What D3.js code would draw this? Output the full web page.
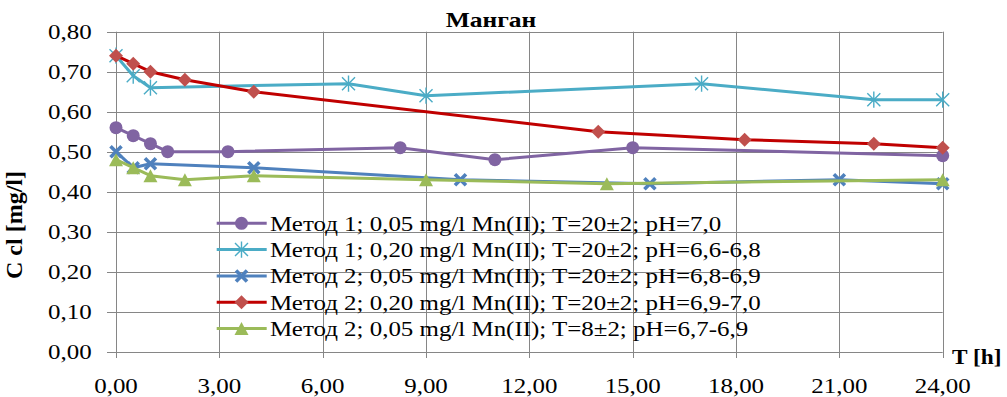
<!DOCTYPE html>
<html><head><meta charset="utf-8">
<script src="https://cdn.jsdelivr.net/npm/d3@7"></script>
<style>
html,body{margin:0;padding:0;background:#fff;}
svg{display:block;}
svg text{font-family: Liberation Serif, Tinos, Times New Roman, Times, Noto Serif, DejaVu Serif, serif;}
</style></head><body>
<svg id="c" width="1007" height="397"></svg>
<script>
const title = "Манган";
const yLabel = "C cl [mg/l]";
const xLabel = "T [h]";
const xTicks = [0,3,6,9,12,15,18,21,24];
const yTicks = [0,0.1,0.2,0.3,0.4,0.5,0.6,0.7,0.8];

const names = [
  "Метод 1; 0,05 mg/l Mn(II); T=20±2; pH=7,0",
  "Метод 1; 0,20 mg/l Mn(II); T=20±2; pH=6,6-6,8",
  "Метод 2; 0,05 mg/l Mn(II); T=20±2; pH=6,8-6,9",
  "Метод 2; 0,20 mg/l Mn(II); T=20±2; pH=6,9-7,0",
  "Метод 2; 0,05 mg/l Mn(II); T=8±2; pH=6,7-6,9"
];
const hours1 = [0,0.5,1,1.5,3.25,8.25,11,15,24];
const vals1  = [0.56,0.54,0.52,0.50,0.50,0.51,0.48,0.51,0.49];
const hours2 = [0,0.5,1,6.75,9,17,22,24];
const vals2  = [0.74,0.69,0.66,0.67,0.64,0.67,0.63,0.63];
const hours3 = [0,0.5,1,4,10,15.5,21,24];
const vals3  = [0.50,0.46,0.47,0.46,0.43,0.42,0.43,0.42];
const hours4 = [0,0.5,1,2,4,14,18.25,22,24];
const vals4  = [0.74,0.72,0.70,0.68,0.65,0.55,0.53,0.52,0.51];
const hours5 = [0,0.5,1,2,4,9,14.25,24];
const vals5  = [0.48,0.46,0.44,0.43,0.44,0.43,0.42,0.43];

const lineColors   = ["#8064A2","#4BACC6","#4F81BD","#C00000","#9BBB59"];
const markerColors = ["#8064A2","#4BACC6","#4F81BD","#C0504D","#9BBB59"];
const markerTypes  = ["circle","star","x","diamond","triangle"];

const series = [
  {h:hours1,v:vals1},{h:hours2,v:vals2},{h:hours3,v:vals3},{h:hours4,v:vals4},{h:hours5,v:vals5}
].map((s,i)=>({name:names[i], pts:s.h.map((h,j)=>({h:h,v:s.v[j]})), lc:lineColors[i], mc:markerColors[i], mt:markerTypes[i]}));

const SX = 1.16; // horizontal stretch of text as in the reference
const svg = d3.select("#c");
const x = d3.scaleLinear().domain([0,24]).range([116,942.7]);
const y = d3.scaleLinear().domain([0,0.8]).range([351.7,31.7]);
const fmt = d => d.toFixed(2).replace(".", ",");
const grid = "#868686";

svg.append("g").selectAll("line").data(yTicks).join("line")
  .attr("x1",107).attr("x2",x(24))
  .attr("y1",d=>Math.round(y(d))+0.5).attr("y2",d=>Math.round(y(d))+0.5)
  .attr("stroke",grid).attr("stroke-width",1);
svg.append("g").selectAll("line").data(xTicks).join("line")
  .attr("x1",d=>Math.round(x(d))+0.5).attr("x2",d=>Math.round(x(d))+0.5)
  .attr("y1",y(0.8)).attr("y2",358)
  .attr("stroke",grid).attr("stroke-width",1);

function stretchedText(g, px, py, str, anchor, size, weight, sx){
  const t = g.append("g").attr("transform",`translate(${px},${py}) scale(${sx},1)`);
  return t.append("text").attr("text-anchor",anchor).attr("font-size",size)
    .attr("fill","#000").attr("font-weight",weight||"normal").text(str);
}
const yl = svg.append("g");
yTicks.forEach(d=>stretchedText(yl, 91.7, y(d)+7, fmt(d), "end", 21.5, "normal", SX));
const xl = svg.append("g");
xTicks.forEach(d=>stretchedText(xl, x(d), 393, fmt(d), "middle", 21.5, "normal", SX));

stretchedText(svg, 491, 26.5, title, "middle", 22, "bold", SX);
stretchedText(svg, 952, 364, xLabel, "start", 22, "bold", 1.06);
svg.append("text").attr("transform","translate(22,225) rotate(-90)").attr("fill","#000")
  .attr("text-anchor","middle").attr("font-size",24).attr("font-weight","bold").text(yLabel);

function marker(g, type, color, cx, cy){
  if(type==="circle"){
    g.append("circle").attr("cx",cx).attr("cy",cy).attr("r",6.5).attr("fill",color);
  } else if(type==="diamond"){
    const r=7;
    g.append("path").attr("d",`M${cx},${cy-r}L${cx+r},${cy}L${cx},${cy+r}L${cx-r},${cy}Z`).attr("fill",color);
  } else if(type==="triangle"){
    const w=7,h=6.5;
    g.append("path").attr("d",`M${cx},${cy-h}L${cx+w},${cy+h}L${cx-w},${cy+h}Z`).attr("fill",color);
  } else if(type==="x"){
    const r=5.5;
    g.append("path").attr("d",`M${cx-r},${cy-r}L${cx+r},${cy+r}M${cx+r},${cy-r}L${cx-r},${cy+r}`)
      .attr("stroke",color).attr("stroke-width",3.6).attr("fill","none");
  } else if(type==="star"){
    const r=6.5;
    g.append("path").attr("d",`M${cx-r},${cy-r}L${cx+r},${cy+r}M${cx+r},${cy-r}L${cx-r},${cy+r}M${cx},${cy-r*1.25}L${cx},${cy+r*1.25}`)
      .attr("stroke",color).attr("stroke-width",1.4).attr("fill","none");
  }
}

const line = d3.line().x(d=>x(d.h)).y(d=>y(d.v));
const sg = svg.append("g");
series.forEach(s=>{
  const g = sg.append("g");
  g.append("path").datum(s.pts).attr("d",line).attr("fill","none")
    .attr("stroke",s.lc).attr("stroke-width",3).attr("stroke-linejoin","round");
  s.pts.forEach(p=>marker(g, s.mt, s.mc, x(p.h), y(p.v)));
});

const lg = svg.append("g");
const legendY = [223.3,249.6,275.9,302.2,328.5];
series.forEach((s,i)=>{
  const ly = legendY[i];
  lg.append("line").attr("x1",216.7).attr("x2",266.7).attr("y1",ly).attr("y2",ly)
    .attr("stroke",s.lc).attr("stroke-width",3);
  marker(lg, s.mt, s.mc, 241.5, ly);
  stretchedText(lg, 270, ly+7.5, s.name, "start", 21.5, "normal", SX);
});
</script></body></html>
